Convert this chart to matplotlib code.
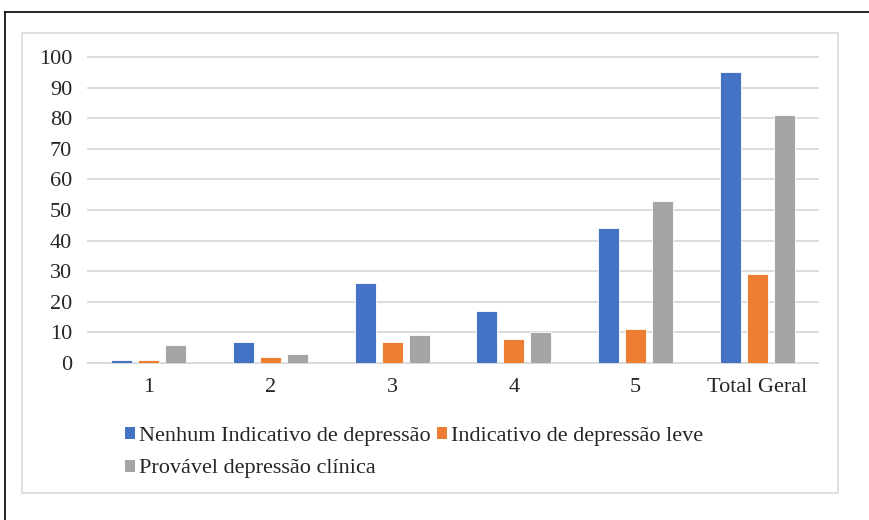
"""Grouped bars: depression indicators by group, with overall totals."""

import matplotlib
matplotlib.use("Agg")
import matplotlib.pyplot as plt
from matplotlib.lines import Line2D
from matplotlib.patches import Patch, Rectangle
import numpy as np

CATEGORIES = ["1", "2", "3", "4", "5", "Total Geral"]
NENHUM = [1, 7, 26, 17, 44, 95]
LEVE = [1, 2, 7, 8, 11, 29]
CLINICA = [6, 3, 9, 10, 53, 81]
SERIES = [
    ("Nenhum Indicativo de depressão", NENHUM, "#4472C4"),
    ("Indicativo de depressão leve", LEVE, "#ED7D31"),
    ("Provável depressão clínica", CLINICA, "#A5A5A5"),
]
Y_TICKS = list(range(0, 101, 10))

TEXT = "#262626"
GRID = "#D9D9D9"
FONT = "Liberation Serif"
FS = 16

plt.rcParams["font.family"] = [FONT, "DejaVu Serif"]

W, H = 870, 520
fig = plt.figure(figsize=(W / 100, H / 100), dpi=100)
ax = fig.add_axes([88 / W, 1 - 363 / H, (818 - 88) / W, (363 - 57) / H])

x = np.arange(len(CATEGORIES))
width = 0.173
step = 0.222
for i, (label, vals, color) in enumerate(SERIES):
    ax.bar(x + (i - 1) * step, vals, width, color=color, label=label,
           edgecolor="white", linewidth=0.6, zorder=3)

ax.set_xlim(-0.5, len(CATEGORIES) - 0.5)
ax.set_ylim(0, 100)
ax.set_yticks(Y_TICKS)
ax.set_xticks(x)
ax.set_xticklabels(CATEGORIES)
ax.tick_params(axis="both", length=0, labelsize=FS, colors=TEXT)
ax.tick_params(axis="y", pad=11.5)
ax.tick_params(axis="x", pad=11)
ax.yaxis.grid(True, color=GRID, linewidth=1.3, zorder=0)
for gl in ax.get_ygridlines():
    gl.set_clip_on(False)
for side in ("top", "right", "left"):
    ax.spines[side].set_visible(False)
ax.spines["bottom"].set_color(GRID)
ax.spines["bottom"].set_linewidth(1.3)

# legend: two entries on the first row, third below the first
order = [0, 2, 1]
handles = [Patch(facecolor=SERIES[k][2]) for k in order]
labels = [SERIES[k][0] for k in order]
fig.legend(handles, labels, ncol=2, loc="upper left",
           bbox_to_anchor=(114 / W, 1 - 416 / H), frameon=False,
           fontsize=FS, handlelength=0.45, handleheight=0.45,
           handletextpad=0.18, columnspacing=0.3, labelspacing=0.6,
           borderpad=0, labelcolor=TEXT)

# chart frame and page edges
fig.add_artist(Rectangle((22 / W, 1 - 493 / H), (838 - 22) / W, (493 - 33) / H,
                         transform=fig.transFigure, fill=False,
                         edgecolor=GRID, linewidth=1.2))
fig.add_artist(Line2D([5 / W, 1], [1 - 12 / H, 1 - 12 / H],
                      transform=fig.transFigure, color="black", linewidth=1.2))
fig.add_artist(Line2D([5 / W, 5 / W], [0, 1 - 12 / H],
                      transform=fig.transFigure, color="black", linewidth=1.2))

fig.savefig("out.png", dpi=100)
